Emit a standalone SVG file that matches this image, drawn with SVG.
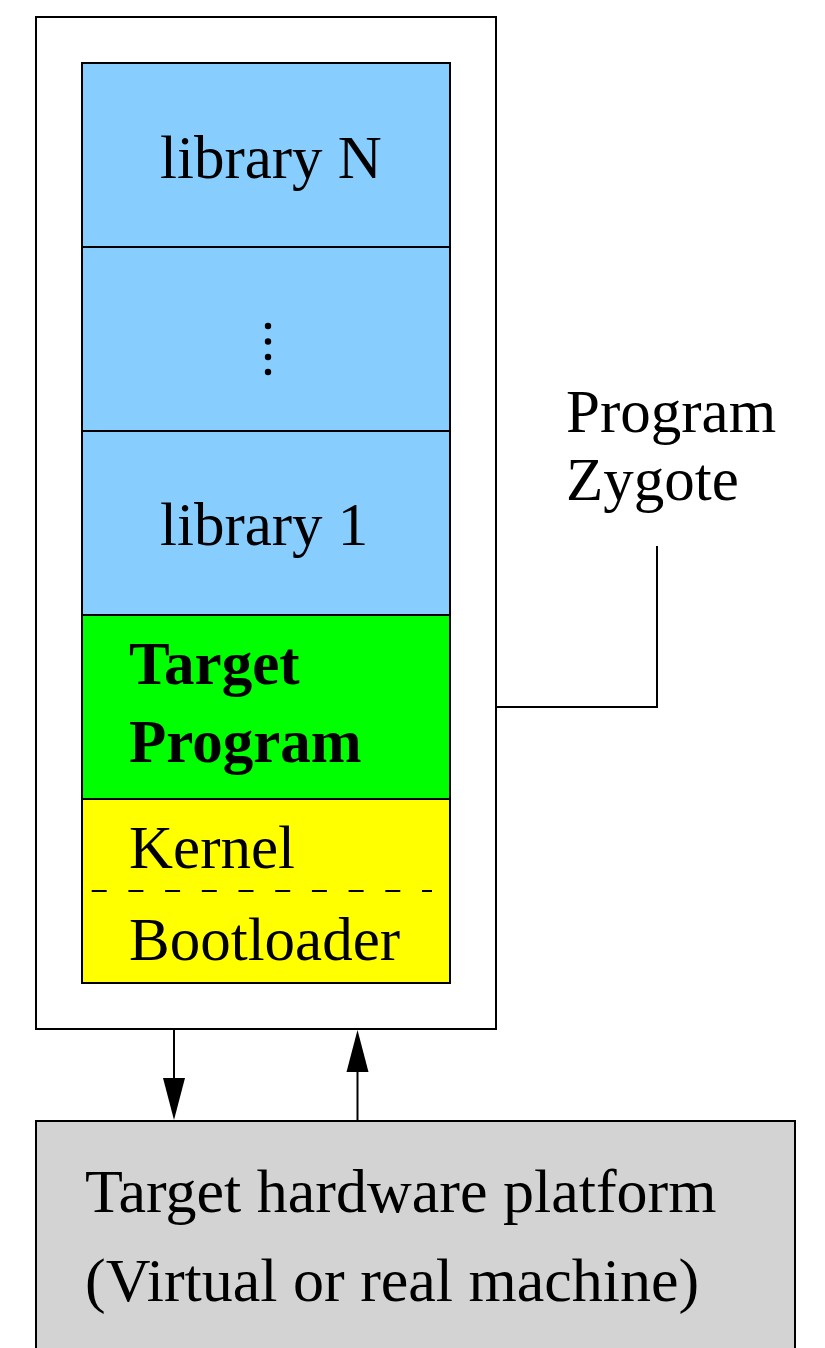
<svg xmlns="http://www.w3.org/2000/svg" width="825" height="1348" viewBox="0 0 825 1348">
<style>
.t{font-family:"Liberation Serif","Times New Roman",serif;font-size:61px;fill:#000}
.b{font-weight:bold}
.big{font-size:62px}
.box{stroke:#000;stroke-width:2}
.ln{fill:none;stroke:#000;stroke-width:2}
</style>
<rect width="825" height="1348" fill="#fff"/>
<g id="zygote">
<rect class="box" x="36" y="17" width="460" height="1012" fill="#fff"/>
</g>
<g id="libN">
<rect class="box" x="82" y="63" width="368" height="184" fill="#87ceff"/>
<text class="t" x="160" y="178">library N</text>
</g>
<g id="libDots">
<rect class="box" x="82" y="247" width="368" height="184" fill="#87ceff"/>
<circle cx="268" cy="326" r="3.2"/>
<circle cx="268" cy="341.5" r="3.2"/>
<circle cx="268" cy="357" r="3.2"/>
<circle cx="268" cy="372" r="3.2"/>
</g>
<g id="lib1">
<rect class="box" x="82" y="431" width="368" height="184" fill="#87ceff"/>
<text class="t" x="160" y="545">library 1</text>
</g>
<g id="target">
<rect class="box" x="82" y="615" width="368" height="184" fill="#00ff00"/>
<text class="t b" x="129" y="684">Target</text>
<text class="t b" x="129" y="762">Program</text>
</g>
<g id="kernel">
<rect class="box" x="82" y="799" width="368" height="184" fill="#ffff00"/>
<line x1="91" y1="891" x2="432" y2="891" stroke="#000" stroke-width="2" stroke-dasharray="15 21.7" stroke-dashoffset="-0.7"/>
<text class="t" x="129" y="868">Kernel</text>
<text class="t" x="129" y="960">Bootloader</text>
</g>
<g id="label">
<text class="t" x="566" y="432">Program</text>
<text class="t" x="566" y="500">Zygote</text>
</g>
<g id="hardware">
<rect class="box" x="36" y="1121" width="759" height="240" fill="#d3d3d3"/>
<text class="t big" x="85" y="1212">Target hardware platform</text>
<text class="t big" x="85" y="1301">(Virtual or real machine)</text>
</g>
<g id="connectors">
<polyline class="ln" points="496,707 657,707 657,546"/>
<line class="ln" x1="174" y1="1029" x2="174" y2="1110"/>
<path d="M163,1078 L185,1078 L174,1120 Z" fill="#000"/>
<line class="ln" x1="357.5" y1="1121" x2="357.5" y2="1045"/>
<path d="M346.5,1072 L368.5,1072 L357.5,1030 Z" fill="#000"/>
</g>
</svg>
